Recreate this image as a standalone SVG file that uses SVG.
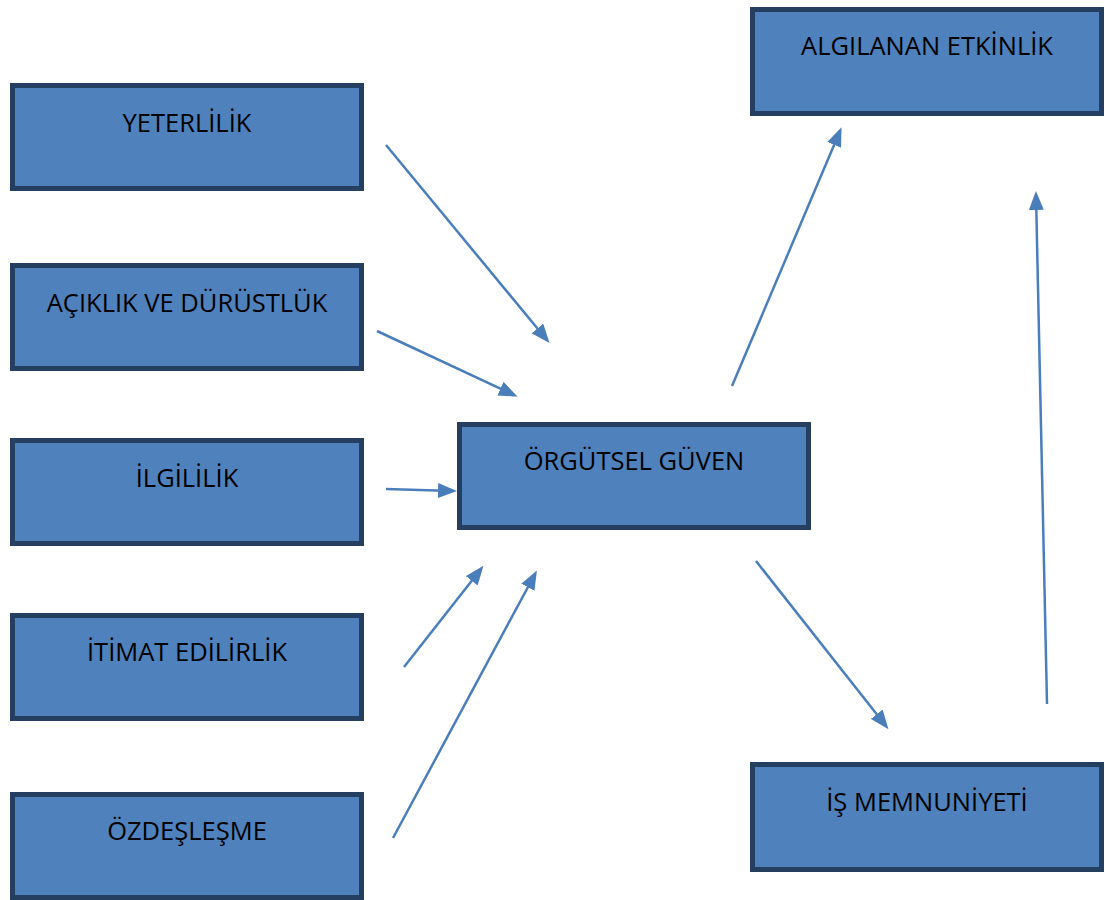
<svg xmlns="http://www.w3.org/2000/svg" width="1105" height="900" viewBox="0 0 1105 900">
  <defs>
    <style>
      .box { fill: #4F81BD; stroke: #243F60; stroke-width: 5; }
      .label { font-family: "Open Sans", "Liberation Sans", sans-serif; font-size: 25.5px; fill: #000000; text-anchor: middle; }
      .link { stroke: #4A7EBB; stroke-width: 2.5; fill: none; marker-end: url(#head); }
    </style>
    <marker id="head" markerUnits="userSpaceOnUse" markerWidth="19" markerHeight="15" refX="15" refY="7.5" orient="auto">
      <path d="M0,0 L19,7.5 L0,15 z" fill="#4A7EBB"/>
    </marker>
  </defs>
  <rect width="1105" height="900" fill="#FFFFFF"/>

  <!-- antecedents -->
  <g id="yeterlilik">
    <rect class="box" x="12.5" y="85.5" width="349" height="103"/>
    <text class="label" x="187" y="132">YETERLİLİK</text>
  </g>
  <g id="aciklik">
    <rect class="box" x="12.5" y="265.5" width="349" height="103"/>
    <text class="label" x="187" y="312">AÇIKLIK VE DÜRÜSTLÜK</text>
  </g>
  <g id="ilgililik">
    <rect class="box" x="12.5" y="440.5" width="349" height="103"/>
    <text class="label" x="187" y="487">İLGİLİLİK</text>
  </g>
  <g id="itimat">
    <rect class="box" x="12.5" y="615.5" width="349" height="103"/>
    <text class="label" x="187" y="661">İTİMAT EDİLİRLİK</text>
  </g>
  <g id="ozdeslesme">
    <rect class="box" x="12.5" y="794.5" width="349" height="103"/>
    <text class="label" x="187" y="840">ÖZDEŞLEŞME</text>
  </g>

  <!-- central construct -->
  <g id="orgutsel-guven">
    <rect class="box" x="459.5" y="424.5" width="349" height="103"/>
    <text class="label" x="634" y="470">ÖRGÜTSEL GÜVEN</text>
  </g>

  <!-- outcomes -->
  <g id="algilanan-etkinlik">
    <rect class="box" x="752.5" y="9.5" width="349" height="104"/>
    <text class="label" x="927" y="55">ALGILANAN ETKİNLİK</text>
  </g>
  <g id="is-memnuniyeti">
    <rect class="box" x="752.5" y="764.5" width="349" height="105"/>
    <text class="label" x="927" y="811">İŞ MEMNUNİYETİ</text>
  </g>

  <g id="connectors">
    <line class="link" x1="386" y1="145" x2="547" y2="340"/>
    <line class="link" x1="377" y1="331" x2="514" y2="395"/>
    <line class="link" x1="386" y1="489" x2="453" y2="491"/>
    <line class="link" x1="404" y1="667" x2="481" y2="569"/>
    <line class="link" x1="393" y1="838" x2="535" y2="574"/>
    <line class="link" x1="732" y1="386" x2="840" y2="131"/>
    <line class="link" x1="756" y1="561" x2="886" y2="726"/>
    <line class="link" x1="1047" y1="704" x2="1036" y2="195"/>
  </g>
</svg>
